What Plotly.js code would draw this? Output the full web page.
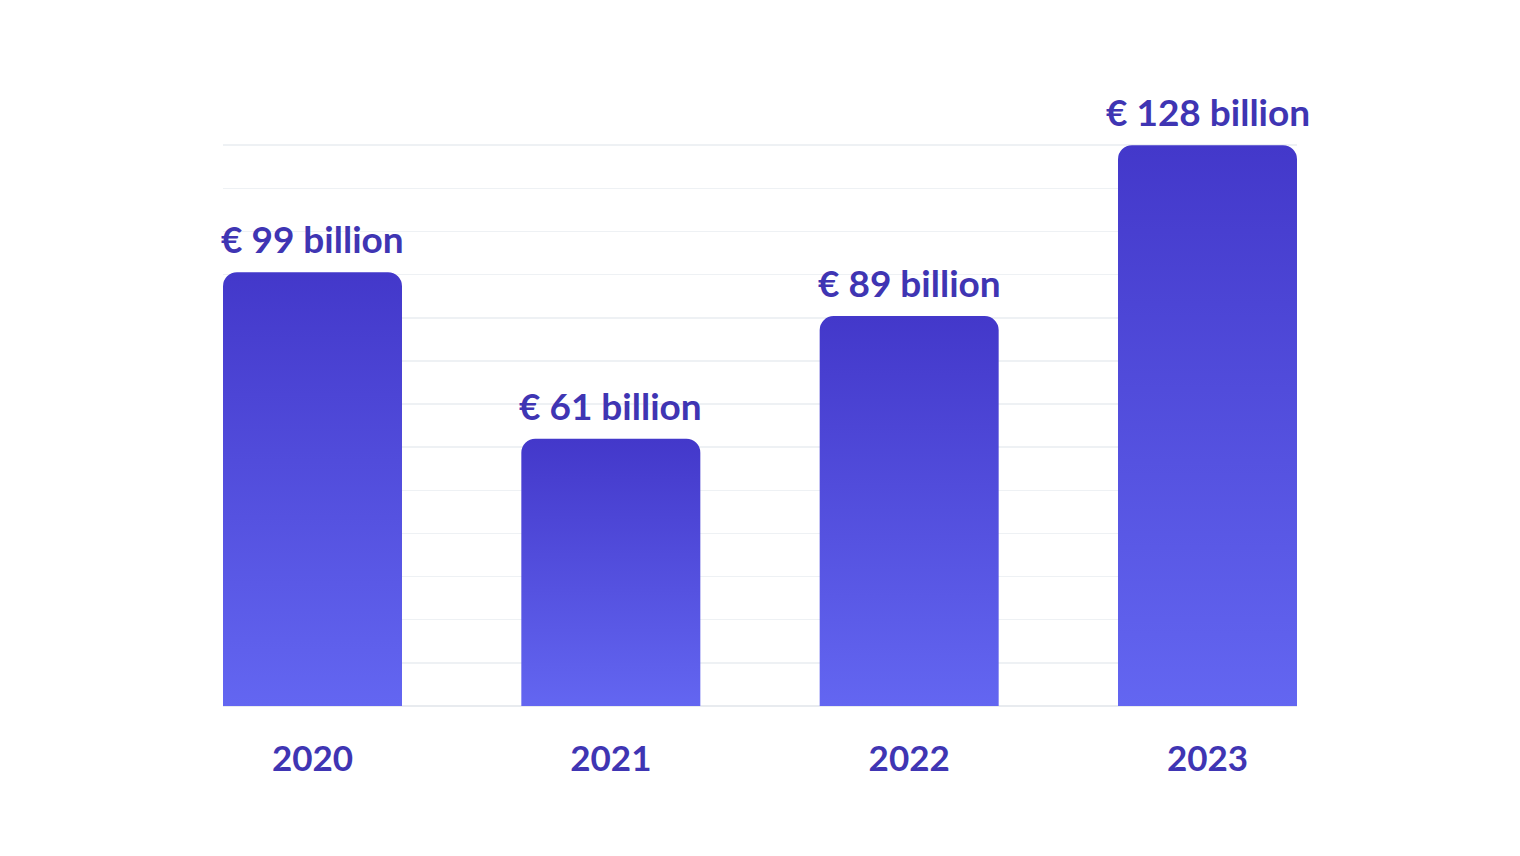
<!DOCTYPE html>
<html>
<head>
<meta charset="utf-8">
<script src="https://cdn.plot.ly/plotly-3.0.1.min.js"></script>
<style>
  html, body { margin: 0; padding: 0; background: #ffffff; }
  #chart { width: 1520px; height: 856px; }
</style>
</head>
<body>
<div id="chart"></div>
<script>
const years = ['2020', '2021', '2022', '2023'];
const values = [99, 61, 89, 128];
const valueLabels = ['€ 99 billion', '€ 61 billion', '€ 89 billion', '€ 128 billion'];

const textColor = '#3F35B3';
const fontFamily = 'Lato, "Source Sans Pro", "Noto Sans", sans-serif';

const trace = {
  type: 'bar',
  x: years,
  y: values,
  marker: { color: '#5550E0', cornerradius: 14, line: { width: 0 } },
  hoverinfo: 'none'
};

// category index positions on the category axis
const annotations = years.map(function (yr, i) {
  return {
    x: i,
    y: values[i],
    xref: 'x',
    yref: 'y',
    text: '<b>' + valueLabels[i] + '</b>',
    showarrow: false,
    xanchor: 'center',
    yanchor: 'bottom',
    yshift: 9,
    font: { family: fontFamily, size: 37, color: textColor }
  };
});

const layout = {
  width: 1520,
  height: 856,
  margin: { l: 223, r: 223, t: 143, b: 150, pad: 0 },
  paper_bgcolor: '#ffffff',
  plot_bgcolor: '#ffffff',
  bargap: 0.4,
  showlegend: false,
  annotations: annotations,
  xaxis: {
    type: 'category',
    range: [-0.3, 3.3],
    showgrid: false,
    zeroline: false,
    showline: false,
    ticks: '',
    tickfont: { family: fontFamily, size: 35, color: textColor, weight: 'bold' },
    ticklabelstandoff: 29,
    fixedrange: true
  },
  yaxis: {
    range: [0, 128.5],
    tick0: 0,
    dtick: 128 / 13,
    showgrid: true,
    gridcolor: '#EEF1F4',
    gridwidth: 1.5,
    zeroline: true,
    zerolinecolor: '#E8EBEF',
    zerolinewidth: 1.5,
    showticklabels: false,
    ticks: '',
    showline: false,
    fixedrange: true
  }
};

Plotly.newPlot('chart', [trace], layout, { displayModeBar: false, staticPlot: true }).then(function (gd) {
  const svg = gd.querySelector('svg.main-svg');
  const ns = 'http://www.w3.org/2000/svg';
  let defs = svg.querySelector('defs');
  if (!defs) { defs = document.createElementNS(ns, 'defs'); svg.insertBefore(defs, svg.firstChild); }
  const grad = document.createElementNS(ns, 'linearGradient');
  grad.setAttribute('id', 'barGrad');
  grad.setAttribute('x1', '0'); grad.setAttribute('y1', '0');
  grad.setAttribute('x2', '0'); grad.setAttribute('y2', '1');
  [['0', '#4338CA'], ['1', '#6366F1']].forEach(function (s) {
    const stop = document.createElementNS(ns, 'stop');
    stop.setAttribute('offset', s[0]);
    stop.setAttribute('stop-color', s[1]);
    grad.appendChild(stop);
  });
  defs.appendChild(grad);
  gd.querySelectorAll('.barlayer .point path').forEach(function (p) {
    p.style.fill = 'url(#barGrad)';
  });
});
</script>
</body>
</html>
